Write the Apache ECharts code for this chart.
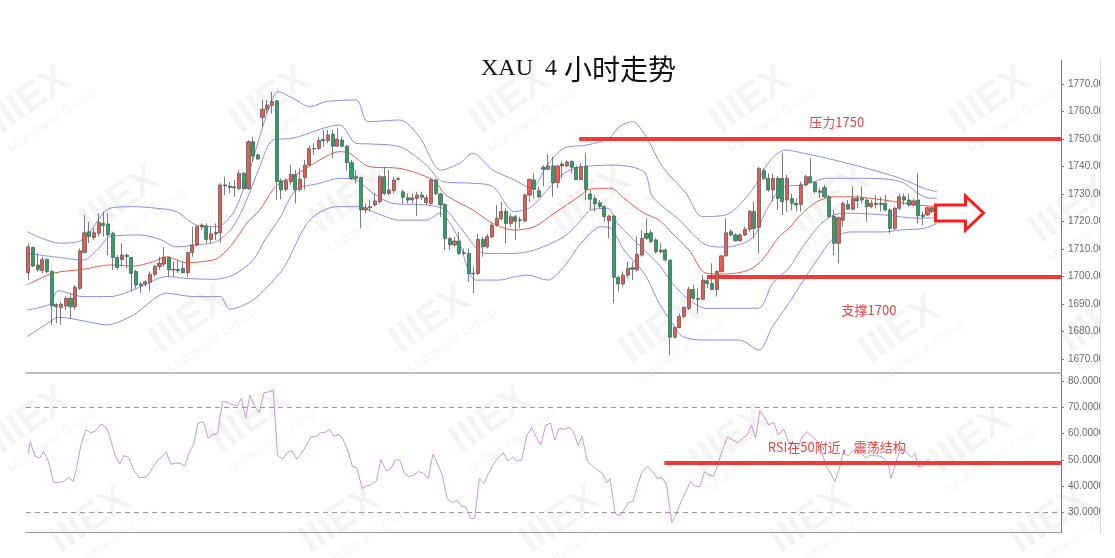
<!DOCTYPE html>
<html><head><meta charset="utf-8">
<script src="https://cdn.jsdelivr.net/npm/echarts@6/dist/echarts.min.js"></script>
<style>html,body{margin:0;padding:0;background:#fff}#c{width:1115px;height:558px}</style>
</head><body><div id="c"></div>
<script>
// ---------- DATA ----------
const SLOTS = 221; // category slots on the time axis (194 bars + empty space on the right)
const categories = Array.from({length: SLOTS}, (_, i) => String(i + 1));

const open = [1701.4,1710.6,1704.2,1702.1,1706.2,1701.8,1689.0,1688.7,1689.3,1692.1,
1689.0,1695.7,1708.7,1716.3,1714.2,1715.7,1719.3,1719.1,1715.7,1706.9,
1706.2,1707.8,1706.9,1701.8,1697.3,1697.3,1697.9,1700.8,1703.6,1704.5,
1706.9,1702.6,1702.6,1703.0,1701.4,1708.7,1711.5,1718.0,1718.4,1713.5,
1715.5,1715.9,1733.3,1732.9,1732.6,1732.0,1737.5,1732.0,1749.0,1744.2,
1757.9,1760.8,1762.3,1763.9,1734.8,1731.7,1734.5,1737.1,1731.7,1736.0,
1740.5,1746.4,1746.6,1749.9,1749.4,1751.8,1747.4,1749.6,1747.4,1741.4,
1736.3,1736.0,1724.2,1725.0,1726.0,1727.2,1736.3,1730.2,1731.2,1735.6,
1730.8,1728.6,1727.9,1728.4,1729.6,1726.8,1726.6,1735.1,1730.0,1726.2,
1713.8,1711.5,1712.9,1708.6,1708.4,1701.2,1701.1,1713.5,1710.8,1714.4,
1718.7,1721.0,1723.6,1719.3,1721.7,1720.6,1720.2,1729.6,1735.1,1731.2,
1739.7,1739.0,1740.2,1734.1,1740.9,1740.2,1741.9,1739.7,1735.3,1740.2,
1730.0,1728.4,1726.8,1725.4,1720.3,1722.0,1699.7,1697.3,1700.5,1703.2,
1702.4,1707.8,1715.7,1715.9,1713.3,1709.0,1709.6,1706.0,1677.9,1681.4,
1685.5,1688.4,1695.3,1692.0,1691.7,1698.5,1697.5,1695.3,1701.8,1707.5,
1716.3,1715.1,1713.0,1715.1,1717.2,1723.6,1717.9,1738.5,1735.7,1731.5,
1735.7,1735.7,1727.8,1728.4,1726.6,1726.2,1733.3,1736.3,1734.2,1731.1,
1732.3,1729.0,1721.8,1712.1,1720.5,1726.2,1724.5,1728.4,1727.8,1727.8,
1725.4,1726.6,1726.6,1726.6,1724.2,1717.5,1724.8,1729.0,1727.8,1726.0,
1727.8,1722.4,1722.4,1725.0];

const close = [1710.8,1703.8,1702.6,1706.2,1701.8,1689.3,1689.9,1689.9,1692.1,1689.0,
1696.1,1709.3,1715.9,1714.5,1715.9,1719.7,1718.5,1715.1,1706.9,1703.3,
1707.8,1707.2,1701.1,1696.9,1696.7,1698.1,1700.8,1703.6,1704.8,1706.9,
1702.4,1702.4,1702.1,1701.4,1708.7,1711.5,1718.1,1718.7,1713.5,1715.5,
1716.0,1733.3,1732.9,1732.4,1732.2,1737.5,1732.0,1749.0,1743.8,1742.7,
1760.8,1762.4,1763.6,1734.5,1731.5,1734.8,1737.1,1731.5,1735.4,1740.5,
1746.5,1746.6,1749.4,1749.3,1751.5,1747.4,1749.9,1747.4,1741.4,1735.7,
1735.7,1724.2,1725.0,1725.4,1727.5,1736.3,1730.2,1731.5,1735.1,1735.4,
1728.8,1727.8,1728.6,1729.6,1728.8,1728.6,1735.1,1730.2,1726.0,1713.8,
1711.5,1712.9,1708.4,1708.4,1701.1,1701.0,1713.5,1710.8,1714.5,1718.7,
1721.1,1723.6,1719.3,1721.7,1720.1,1720.4,1729.6,1735.3,1731.7,1729.0,
1739.0,1740.2,1734.1,1740.2,1740.2,1741.6,1739.7,1735.3,1739.9,1731.7,
1728.1,1726.4,1725.4,1721.8,1722.0,1699.7,1697.3,1700.5,1702.9,1702.6,
1708.1,1713.9,1713.9,1712.7,1709.0,1709.6,1706.0,1677.9,1681.4,1685.5,
1688.8,1695.3,1692.1,1691.7,1698.7,1697.5,1695.3,1701.8,1707.5,1715.9,
1715.1,1713.0,1715.1,1717.2,1723.6,1717.5,1739.3,1735.7,1731.5,1735.7,
1728.4,1727.2,1735.7,1726.6,1726.0,1733.3,1736.3,1734.2,1730.9,1730.6,
1729.0,1721.8,1712.1,1721.4,1726.6,1724.5,1728.4,1727.5,1728.4,1725.4,
1726.6,1726.2,1726.2,1724.2,1717.5,1724.8,1729.0,1727.8,1726.0,1727.5,
1722.1,1721.8,1725.0,1723.6];

const high = [1712.0,1710.8,1708.4,1707.2,1706.6,1702.4,1690.2,1690.8,1692.7,1693.9,
1696.9,1710.2,1722.4,1719.9,1717.5,1723.0,1723.6,1723.0,1716.3,1707.8,
1712.1,1708.4,1707.2,1702.4,1698.1,1698.7,1701.8,1704.2,1707.2,1710.8,
1707.2,1705.4,1706.0,1705.4,1709.0,1718.1,1718.7,1719.3,1719.3,1718.1,
1719.3,1733.9,1736.3,1734.5,1735.1,1738.7,1738.1,1749.6,1750.8,1744.8,
1764.2,1764.2,1767.2,1764.2,1735.7,1735.7,1740.5,1738.7,1739.3,1742.4,
1747.8,1748.4,1750.8,1753.3,1753.3,1753.3,1753.9,1750.8,1747.8,1742.4,
1738.7,1736.3,1726.6,1727.8,1730.2,1736.9,1739.9,1738.7,1736.3,1736.1,
1731.5,1730.2,1730.2,1730.8,1730.8,1729.6,1735.7,1735.7,1730.5,1726.6,
1714.5,1714.5,1716.3,1710.2,1710.2,1703.6,1715.5,1714.5,1715.5,1719.3,
1726.0,1727.2,1724.8,1723.0,1722.4,1721.8,1730.2,1735.7,1737.5,1732.7,
1740.5,1744.5,1743.6,1740.5,1741.8,1742.4,1742.1,1740.2,1741.2,1744.8,
1731.5,1729.6,1727.8,1726.0,1722.4,1722.4,1700.0,1701.8,1705.4,1705.4,
1714.5,1716.9,1721.2,1716.9,1713.9,1712.1,1710.2,1706.0,1681.8,1686.6,
1689.0,1696.3,1696.9,1695.7,1700.5,1699.3,1704.8,1702.4,1707.8,1721.2,
1717.2,1715.7,1715.7,1718.1,1724.2,1727.2,1739.9,1739.3,1737.5,1737.3,
1736.5,1744.8,1736.9,1730.2,1728.4,1734.5,1736.9,1743.0,1734.5,1732.1,
1733.3,1729.6,1724.2,1721.8,1727.2,1727.8,1732.7,1729.6,1732.7,1728.4,
1727.8,1729.6,1729.0,1729.6,1724.8,1725.4,1730.2,1730.2,1730.2,1728.4,
1737.5,1723.6,1725.4,1725.4];

const low = [1698.7,1703.5,1701.8,1701.2,1701.2,1682.3,1683.0,1682.4,1687.8,1684.8,
1687.8,1695.1,1708.4,1712.1,1713.3,1714.5,1714.5,1707.8,1702.4,1702.4,
1703.6,1703.0,1694.5,1695.7,1693.9,1696.3,1694.5,1699.9,1702.4,1703.6,
1699.9,1699.9,1701.2,1701.2,1699.9,1707.2,1710.8,1716.9,1712.1,1712.1,
1713.3,1712.1,1729.6,1730.2,1729.0,1731.5,1731.5,1731.5,1741.8,1742.4,
1754.5,1759.3,1759.3,1727.8,1728.1,1730.9,1733.3,1726.6,1730.9,1731.5,
1740.5,1744.2,1746.0,1747.2,1748.4,1743.0,1747.2,1747.2,1738.5,1735.1,
1733.9,1717.5,1723.0,1723.6,1725.4,1726.6,1729.6,1729.6,1730.2,1734.8,
1726.6,1726.6,1726.6,1722.0,1727.8,1726.0,1726.0,1729.6,1721.7,1709.6,
1709.6,1710.8,1707.8,1707.8,1698.1,1693.9,1700.5,1707.2,1710.2,1713.9,
1718.1,1720.5,1712.1,1718.1,1713.3,1717.5,1719.9,1727.2,1728.4,1728.4,
1732.7,1738.7,1729.0,1732.1,1735.7,1739.9,1737.5,1735.1,1735.1,1727.8,
1724.2,1723.6,1724.8,1719.9,1713.9,1690.2,1694.5,1696.3,1699.3,1698.7,
1701.8,1707.2,1713.3,1712.1,1708.4,1708.4,1705.4,1671.5,1677.5,1681.2,
1684.8,1687.8,1691.5,1686.6,1691.5,1695.7,1695.1,1692.7,1701.4,1707.2,
1714.5,1712.7,1712.7,1714.7,1716.3,1713.9,1708.4,1735.1,1730.8,1727.2,
1724.2,1722.4,1723.6,1724.2,1723.6,1723.6,1732.7,1733.9,1730.2,1728.4,
1728.4,1721.2,1707.8,1704.8,1718.1,1724.2,1724.2,1724.8,1726.6,1719.9,
1724.8,1724.8,1723.6,1723.6,1715.7,1716.9,1724.2,1726.0,1725.4,1725.4,
1719.3,1718.7,1722.1,1723.0];

// Bollinger bands: [bar position, price]
const bbUpper2 = [[-0.3,1716.3],[6.8,1712.1],[11.7,1713.5],[17.4,1724.8],[22.4,1725.4],[27.4,1724.8],[31.6,1723.6],[35.9,1718.7],[40.2,1718.1],[43.7,1723.0],[46.6,1735.1],[49.4,1750.8],[51.5,1761.8],[53.3,1767.2],[56.5,1764.8],[60.1,1761.8],[63.6,1763.6],[70.0,1764.2],[72.5,1756.3],[79.3,1756.9],[83.5,1750.8],[88.1,1738.7],[92.1,1741.2],[94.9,1744.8],[99.2,1738.7],[103.8,1735.1],[107.4,1732.2],[110.8,1740.5],[114.4,1746.7],[119.3,1747.8],[124.0,1750.4],[126.2,1754.5],[129.0,1756.3],[131.9,1750.8],[135.4,1739.9],[140.4,1730.3],[143.9,1721.8],[148.9,1722.4],[154.6,1731.5],[158.1,1741.6],[161.7,1746.0],[165.6,1744.8],[172.0,1742.4],[179.1,1739.3],[186.2,1735.7],[191.2,1732.1],[194.0,1730.8]];
const bbUpper1 = [[-0.3,1708.4],[5.3,1707.2],[11.7,1706.0],[15.3,1710.8],[17.4,1714.5],[23.8,1715.1],[28.1,1713.5],[31.6,1710.8],[35.9,1711.5],[40.2,1712.7],[43.7,1718.1],[46.6,1727.8],[49.4,1739.9],[52.2,1749.6],[56.5,1750.3],[66.5,1755.1],[70.0,1748.4],[72.9,1748.2],[79.3,1747.2],[85.0,1740.5],[88.5,1734.5],[94.9,1733.9],[99.2,1732.7],[103.8,1723.6],[107.4,1725.3],[110.8,1731.5],[114.4,1737.6],[118.1,1739.8],[125.1,1740.5],[131.5,1738.0],[133.3,1729.0],[139.0,1720.6],[144.7,1711.5],[148.9,1710.7],[154.6,1714.0],[157.4,1723.5],[160.3,1731.5],[162.4,1732.9],[165.6,1733.3],[170.6,1735.7],[179.1,1735.7],[186.2,1734.5],[191.2,1729.0],[194.0,1728.4]];
const bbMiddle = [[-0.3,1696.9],[5.3,1701.2],[11.7,1702.6],[17.4,1704.2],[22.4,1703.8],[26.7,1705.4],[29.5,1707.2],[33.8,1705.0],[39.5,1706.0],[40.9,1707.2],[43.7,1712.1],[46.6,1719.3],[49.4,1724.2],[52.2,1731.5],[53.7,1733.9],[56.5,1736.3],[62.2,1742.4],[66.5,1745.4],[68.6,1744.8],[72.9,1739.9],[79.3,1739.3],[86.4,1735.1],[89.2,1729.6],[94.9,1724.2],[99.2,1719.3],[103.8,1716.9],[108.0,1718.1],[112.3,1723.0],[118.0,1729.6],[119.4,1731.5],[122.3,1732.1],[124.4,1732.1],[127.2,1728.4],[131.5,1723.0],[134.7,1720.5],[137.5,1715.7],[141.1,1709.6],[144.7,1701.2],[148.9,1700.9],[153.9,1702.4],[156.7,1706.0],[160.3,1714.5],[162.4,1717.5],[164.9,1722.4],[168.4,1727.2],[172.0,1729.0],[175.6,1729.0],[182.7,1727.8],[189.8,1726.0],[194.0,1725.4]];
const bbLower1 = [[-0.3,1687.8],[4.6,1690.0],[6.4,1694.8],[11.7,1692.7],[17.4,1692.7],[23.8,1696.1],[29.5,1700.0],[33.8,1699.3],[39.5,1699.0],[43.7,1700.5],[48.0,1706.0],[50.5,1713.3],[53.7,1721.3],[57.2,1731.5],[62.2,1733.9],[66.5,1735.7],[70.0,1735.1],[73.6,1730.3],[77.8,1726.6],[85.0,1726.0],[89.2,1724.2],[92.1,1718.1],[97.7,1708.4],[103.8,1708.4],[108.0,1709.6],[114.4,1714.5],[118.0,1720.5],[120.1,1724.2],[123.7,1724.8],[125.8,1719.3],[130.8,1710.8],[134.7,1704.2],[137.5,1697.5],[141.1,1691.5],[144.7,1688.4],[151.8,1688.4],[156.0,1688.5],[158.9,1697.5],[162.4,1703.1],[164.9,1709.6],[168.4,1717.6],[172.0,1722.4],[175.6,1723.0],[182.7,1722.4],[189.8,1721.2],[194.0,1721.4]];
const bbLower2 = [[-0.3,1678.1],[4.6,1683.5],[6.4,1685.2],[11.7,1683.9],[16.7,1682.4],[22.4,1686.0],[29.5,1693.9],[35.2,1692.7],[40.9,1692.7],[43.0,1688.1],[48.0,1691.5],[53.7,1701.2],[55.1,1704.8],[60.1,1720.5],[65.8,1725.4],[70.7,1725.4],[74.3,1723.0],[79.3,1720.5],[85.0,1720.5],[87.8,1723.0],[91.3,1715.7],[95.6,1698.7],[100.6,1698.7],[103.8,1699.9],[106.6,1700.5],[110.9,1698.7],[114.4,1703.6],[118.0,1712.1],[122.3,1718.1],[124.4,1717.5],[127.2,1709.6],[131.5,1701.2],[134.7,1690.3],[137.5,1683.0],[139.7,1678.1],[144.7,1676.9],[151.8,1676.9],[156.0,1673.3],[158.9,1681.8],[162.4,1690.3],[164.9,1697.0],[168.4,1706.0],[172.0,1714.0],[175.6,1716.2],[182.7,1716.2],[186.2,1716.9],[191.2,1717.5],[194.0,1719.3]];

// RSI: [bar position, value]
const rsi = [[0,52.5],[0.4,56.9],[1.4,51.5],[2.4,50.6],[3.3,53.1],[4.3,49.3],[5.4,41.4],[6.5,41.4],[7.5,41.7],[8.6,43.3],[9.6,41.7],[10.3,46.8],[11.3,56.3],[12.3,61.4],[13.4,60.3],[14.4,61.0],[15.5,63.6],[16.6,62.4],[17.4,58.8],[18.5,51.8],[19.5,48.4],[20.4,51.6],[21.4,50.9],[22.5,46.1],[23.7,43.2],[24.8,43.3],[25.4,43.8],[26.6,47.1],[27.6,49.9],[28.4,50.9],[29.4,53.1],[30.4,48.3],[31.4,48.7],[32.4,48.7],[33.4,47.6],[34.3,52.5],[35.3,56.0],[36.2,63.9],[37.4,64.5],[38.4,58.2],[39.3,59.5],[40.4,60.1],[41.5,72.2],[42.5,71.9],[43.5,71.1],[44.5,70.5],[45.5,73.4],[46.4,65.8],[47.3,74.7],[48.3,70.5],[49.3,68.0],[50.3,75.6],[51.2,75.8],[52.3,76.5],[53.2,51.8],[54.3,50.2],[55.3,52.7],[56.3,53.5],[57.3,50.2],[58.3,52.5],[59.3,55.2],[60.4,58.8],[61.4,58.8],[62.4,60.3],[63.4,60.5],[64.3,61.5],[65.3,58.8],[66.3,59.7],[67.2,57.8],[68.2,53.7],[69.2,47.4],[70.1,47.1],[71.3,39.1],[72.3,40.0],[73.3,40.7],[74.3,41.9],[75.3,50.2],[76.4,45.7],[77.4,46.6],[78.4,49.9],[79.3,49.9],[80.3,44.8],[81.3,43.6],[82.3,44.2],[83.3,45.5],[84.4,44.8],[85.4,42.9],[86.4,52.2],[87.4,48.4],[88.4,44.2],[89.4,35.3],[90.5,33.7],[91.5,34.7],[92.5,32.4],[93.4,32.1],[94.4,27.7],[95.3,27.7],[96.3,42.9],[97.3,41.0],[98.3,45.1],[99.3,48.3],[100.4,50.9],[101.4,52.7],[102.4,49.5],[103.4,50.9],[104.4,49.5],[105.3,49.9],[106.5,59.5],[107.5,62.3],[108.4,58.8],[109.4,55.6],[110.5,63.3],[111.5,63.9],[112.4,57.5],[113.4,62.0],[114.4,61.6],[115.5,62.4],[116.4,60.7],[117.4,55.3],[118.2,59.1],[119.4,49.3],[120.5,47.6],[121.5,46.1],[122.6,44.9],[123.5,41.3],[124.2,42.9],[125.3,29.6],[126.3,28.6],[127.2,30.9],[128.2,33.8],[129.1,34.1],[130.2,41.0],[131.1,45.5],[132.2,47.6],[133.3,45.5],[134.3,42.9],[135.3,43.3],[136.3,40.4],[137.4,26.1],[138.4,29.6],[139.3,33.7],[140.4,37.9],[141.4,41.7],[142.5,39.8],[143.4,39.8],[144.4,45.5],[145.4,44.2],[146.3,43.6],[147.3,48.7],[148.2,53.7],[149.3,58.8],[150.3,57.6],[151.5,56.5],[152.5,58.2],[153.5,59.5],[154.4,63.3],[155.3,58.2],[156.2,68.7],[157.1,66.4],[158.1,63.3],[159.2,64.2],[160.1,59.5],[161.3,61.6],[162.3,56.9],[163.1,56.5],[164.2,54.4],[165.3,58.8],[166.3,60.7],[167.4,58.8],[168.5,56.9],[169.4,53.1],[170.4,47.4],[171.3,44.9],[172.2,41.7],[173.1,46.1],[174.0,52.7],[175.0,51.5],[175.9,53.1],[176.8,53.7],[177.8,52.7],[178.8,50.6],[179.7,51.8],[180.7,51.5],[181.7,51.5],[182.7,50.6],[183.6,48.7],[184.2,42.9],[185.0,47.4],[185.9,52.7],[186.9,53.7],[187.8,52.5],[188.6,50.9],[189.3,52.5],[190.1,47.4],[191.1,47.6],[191.9,49.7],[192.4,50.2]];

const priceTicks = [1670,1680,1690,1700,1710,1720,1730,1740,1750,1760,1770];
const rsiTicks = [30,40,50,60,70,80];
const rsiGuides = [70,30];
const resistance = {value:1750, from:117.6, label:'压力1750', at:[172.6,1756.0]};
const support = {value:1700, from:144.9, label:'支撑1700', at:[179.5,1687.8]};
const rsiMark = {value:49, from:135.8, label:'RSI在50附近，震荡结构', at:[172.6,54.9]};
const arrowAt = [193.7, 1723.1];

// ---------- CHART ----------
const chart = echarts.init(document.getElementById('c'), null, {renderer:'canvas'});
const candleData = open.map((o, i) => [o, close[i], low[i], high[i]]);
const END = SLOTS - 0.5;
const RED = '#f03a36';
function band(data, color){
  return {type:'line', xAxisIndex:1, yAxisIndex:0, data, symbol:'none', smooth:0.3,
    lineStyle:{color, width:1}, silent:true, z:2};
}
const sepLine = {color:'#a8a8a8', width:1.5};
const axisFont = 'Liberation Sans, Arial, sans-serif';
const option = {
  animation:false,
  backgroundColor:'#ffffff',
  grid:[
    {left:26, right:54, top:60, bottom:185},
    {left:26, right:54, top:373, bottom:25.7}
  ],
  xAxis:[
    {type:'category', gridIndex:0, data:categories, boundaryGap:true, position:'bottom',
      axisLine:{show:true, onZero:false, lineStyle:sepLine}, axisTick:{show:false}, axisLabel:{show:false}, splitLine:{show:false}},
    {type:'value', gridIndex:0, min:-0.5, max:END, show:false, position:'bottom', axisLine:{onZero:false}},
    {type:'value', gridIndex:1, min:-0.5, max:END, position:'bottom',
      axisLine:{show:true, onZero:false, lineStyle:{color:'#9a9a9a', width:1}}, axisTick:{show:false}, axisLabel:{show:false}, splitLine:{show:false}}
  ],
  yAxis:[
    {type:'value', gridIndex:0, position:'right', min:1664.91, max:1778.73,
      axisLine:{show:true, onZero:false, lineStyle:{color:'#7d7d7d'}},
      axisTick:{show:true, length:3, customValues:priceTicks, lineStyle:{color:'#7d7d7d'}},
      axisLabel:{customValues:priceTicks, formatter:v => Number(v).toFixed(2), color:'#6a6a6a', fontSize:10, margin:7, fontFamily:axisFont},
      splitLine:{show:false}},
    {type:'value', gridIndex:1, position:'right', min:22.38, max:83.07,
      axisLine:{show:true, onZero:false, lineStyle:{color:'#7d7d7d'}},
      axisTick:{show:true, length:3, customValues:rsiTicks, lineStyle:{color:'#7d7d7d'}},
      axisLabel:{customValues:rsiTicks, formatter:v => Number(v).toFixed(4), color:'#6a6a6a', fontSize:10, margin:7, fontFamily:axisFont},
      splitLine:{show:false}}
  ],
  series:[
    {type:'candlestick', xAxisIndex:0, yAxisIndex:0, data:candleData, barWidth:3.6, z:5,
      itemStyle:{color:'#ec5b50', color0:'#1fa866', borderColor:'#5c5c5c', borderColor0:'#5c5c5c', borderWidth:0.8}},
    band(bbUpper2, '#8e8cec'),
    band(bbUpper1, '#8e8cec'),
    band(bbMiddle, '#ef5a46'),
    band(bbLower1, '#8e8cec'),
    band(bbLower2, '#8e8cec'),
    {type:'line', xAxisIndex:1, yAxisIndex:0, data:[], symbol:'none', z:6,
      markLine:{symbol:'none', silent:true, label:{show:false}, lineStyle:{color:RED, width:4, type:'solid'},
        data:[
          [{coord:[resistance.from, resistance.value]}, {coord:[END, resistance.value]}],
          [{coord:[support.from, support.value]}, {coord:[END, support.value]}]
        ]}},
    {type:'line', xAxisIndex:2, yAxisIndex:1, data:rsi, symbol:'none', z:4,
      lineStyle:{color:'#c79ad3', width:1},
      markLine:{symbol:'none', silent:true, label:{show:false},
        data:[
          {yAxis:rsiGuides[0], lineStyle:{color:'#9a9a9a', width:1, type:[5,4]}},
          {yAxis:rsiGuides[1], lineStyle:{color:'#9a9a9a', width:1, type:[5,4]}},
          [{coord:[rsiMark.from, rsiMark.value], lineStyle:{color:RED, width:4, type:'solid'}}, {coord:[END, rsiMark.value]}]
        ]}}
  ]
};
chart.setOption(option);

// ---------- ANNOTATIONS ----------
const toPx = (pt) => chart.convertToPixel({seriesIndex:1}, pt);
const toPxRsi = (pt) => chart.convertToPixel({seriesIndex:7}, pt);
const annFont = '13px "Noto Sans CJK SC", "Noto Sans", sans-serif';
const annColor = '#e8443e';
function annText(pos, text){
  return {type:'text', x:pos[0], y:pos[1], z:50,
    style:{text, fill:annColor, font:annFont, align:'center', verticalAlign:'middle', textAlign:'center', textVerticalAlign:'middle'}};
}
const a = toPx(arrowAt);
const ax = a[0], ay = a[1];
const arrowPts = [[ax,ay-8],[ax+30,ay-8],[ax+30,ay-17],[ax+48,ay],[ax+30,ay+17],[ax+30,ay+8],[ax,ay+8]];

// faint background watermark logos (decoration of the original picture)
const wmSpots = [[30,100],[270,100],[510,100],[750,100],[990,100],
  [120,200],[350,200],[590,200],[830,200],[1070,210],
  [190,320],[430,320],[660,330],[900,330],[1100,320],
  [30,420],[250,420],[490,420],[730,440],[970,440],
  [90,520],[340,520],[560,520],[810,520],[1050,520]];
const wm = wmSpots.map(([x, y]) => ({type:'group', x, y, rotation:Math.PI * 35 / 180, z:0, silent:true,
  children:[
    {type:'text', x:0, y:0, style:{text:'IIIEX', fill:'rgba(0,0,0,0.045)', font:'bold 40px "Liberation Sans", sans-serif', align:'center', verticalAlign:'middle', textAlign:'center', textVerticalAlign:'middle'}},
    {type:'text', x:6, y:30, style:{text:'MultiBank Group', fill:'rgba(0,0,0,0.045)', font:'14px "Liberation Sans", sans-serif', align:'center', verticalAlign:'middle', textAlign:'center', textVerticalAlign:'middle'}}
  ]}));

chart.setOption({
  graphic: wm.concat([
    {type:'text', x:481, y:69, z:50, style:{text:'XAU', fill:'#111', font:'24px "Liberation Serif", "DejaVu Serif", serif', align:'left', verticalAlign:'middle', textAlign:'left', textVerticalAlign:'middle'}},
    {type:'text', x:545, y:69, z:50, style:{text:'4', fill:'#111', font:'24px "Liberation Serif", "DejaVu Serif", serif', align:'left', verticalAlign:'middle', textAlign:'left', textVerticalAlign:'middle'}},
    {type:'text', x:564, y:69, z:50, style:{text:'小时走势', fill:'#111', font:'28px "Noto Sans CJK SC", sans-serif', align:'left', verticalAlign:'middle', textAlign:'left', textVerticalAlign:'middle'}},
    annText(toPx(resistance.at), resistance.label),
    annText(toPx(support.at), support.label),
    annText(toPxRsi(rsiMark.at), rsiMark.label),
    {type:'polygon', z:50, shape:{points:arrowPts}, style:{fill:'#ffffff', stroke:'#ff1c1c', lineWidth:3, lineJoin:'miter'}},
    {type:'rect', z:60, shape:{x:1100.5, y:0, width:20, height:558}, style:{fill:'#ffffff'}},
    {type:'line', z:61, shape:{x1:1100.5, y1:60, x2:1100.5, y2:534}, style:{stroke:'#dcdcdc', lineWidth:1}}
  ])
});
</script>
</body></html>
